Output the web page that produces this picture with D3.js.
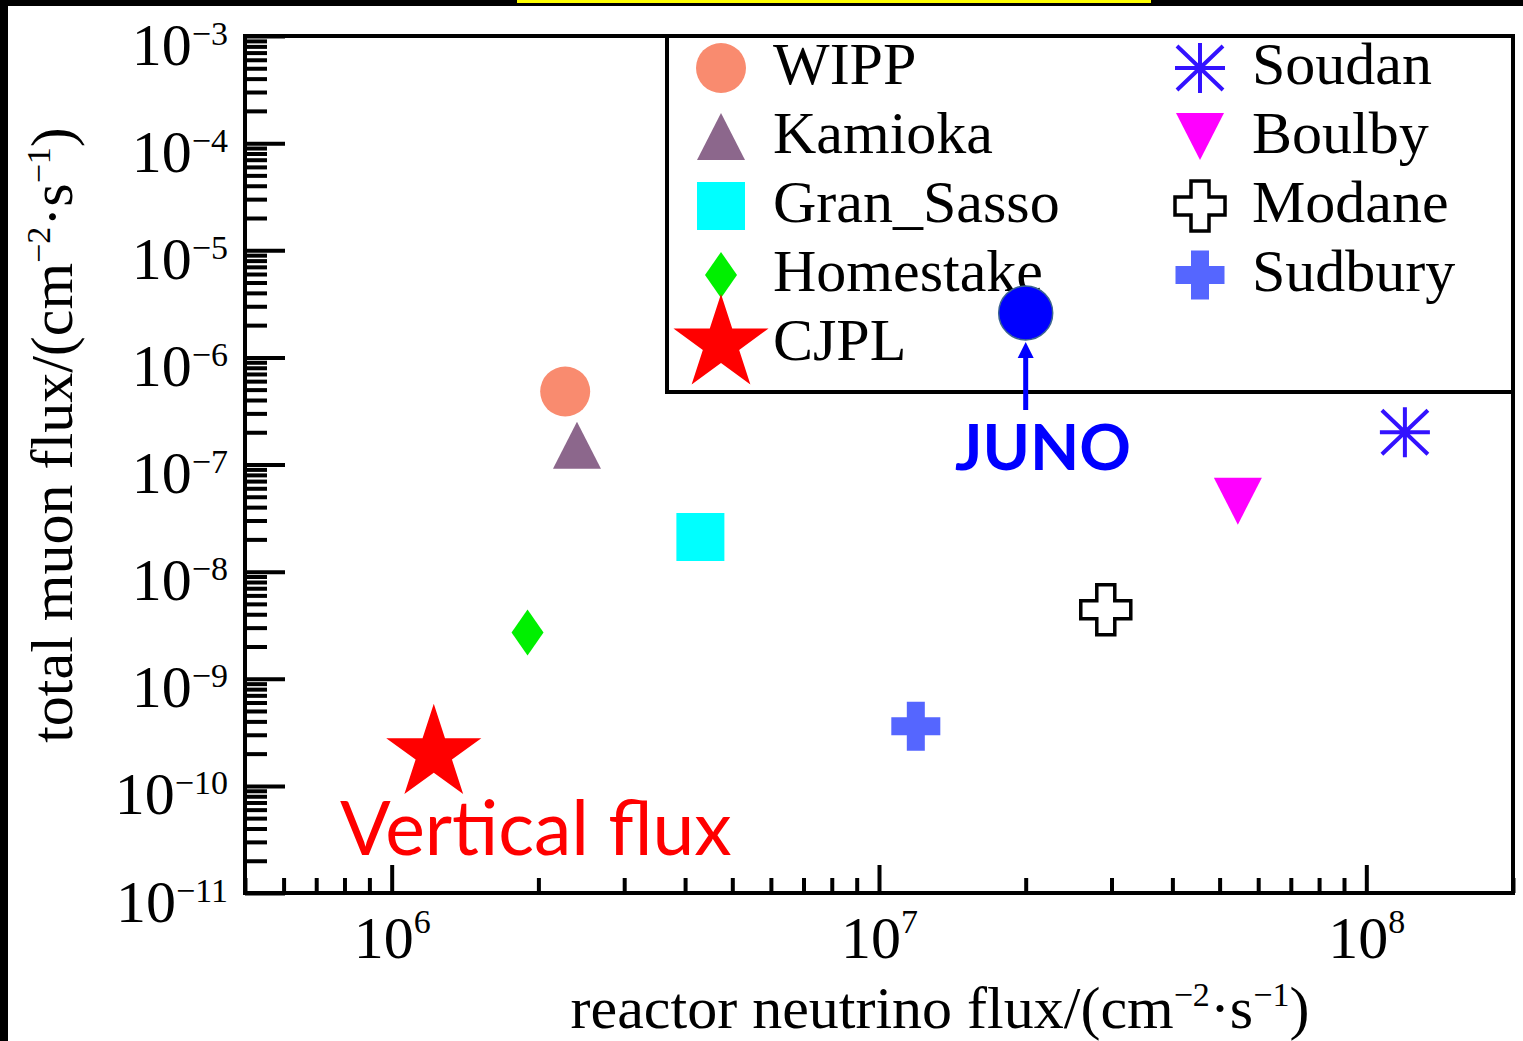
<!DOCTYPE html>
<html>
<head>
<meta charset="utf-8">
<script src="https://cdn.jsdelivr.net/npm/d3@7"></script>
<style>
  body { margin: 0; background: #fff; }
  svg text { font-family: "Liberation Serif", "Times New Roman", serif; }
</style>
</head>
<body>
<svg id="chart" width="1523" height="1041"></svg>
<script>
// underground labs, legend order: left column then right column
const sites = ["WIPP", "Kamioka", "Gran_Sasso", "Homestake", "CJPL", "Soudan", "Boulby", "Modane", "Sudbury"];
// reactor neutrino flux (cm^-2 s^-1)
const reactorFlux = [2.27e6, 2.4e6, 4.3e6, 1.9e6, 1.22e6, 1.2e8, 5.45e7, 2.92e7, 1.19e7];
// total muon flux (cm^-2 s^-1)
const muonFlux = [4.8e-7, 1.5e-7, 2.1e-8, 2.7e-9, 2.0e-10, 2.0e-7, 4.5e-8, 4.4e-9, 3.6e-10];
// JUNO site: [reactor flux, muon flux]
const junoFlux = [2.0e7, 2.6e-6];
// decade exponents that get a label
const xTickExps = [6, 7, 8];
const yTickExps = [-3, -4, -5, -6, -7, -8, -9, -10, -11];

const W = 1523, H = 1041;
const m = { left: 245, top: 36, right: 1513, bottom: 893 };

/**
 * marker shapes, centred on 0,0
 */
const shapes = {
  circle: () => d3.symbol(d3.symbolCircle, Math.PI * 25 * 25)(),
  triangle: () => "M0,-24L24,23L-24,23Z",
  triangleDown: () => "M0,23L24,-24L-24,-24Z",
  square: () => "M-24,-24H24V24H-24Z",
  diamond: () => "M0,-23L16,0L0,23L-16,0Z",
  star: () => {
    const R = 50, r = R * 0.382, p = d3.path();
    for (let i = 0; i < 10; i++) {
      const a = -Math.PI / 2 + i * Math.PI / 5, rr = i % 2 ? r : R;
      i ? p.lineTo(rr * Math.cos(a), rr * Math.sin(a)) : p.moveTo(rr * Math.cos(a), rr * Math.sin(a));
    }
    p.closePath();
    return p.toString();
  },
  asterisk: () => "M-25,0H25M0,-25V25M-23,-22L23,22M-23,22L23,-22",
  cross: (h, w) => `M${-w},${-h}H${w}V${-w}H${h}V${w}H${w}V${h}H${-w}V${w}H${-h}V${-w}H${-w}Z`
}

const markerStyle = {
  WIPP: { d: shapes.circle(), fill: "#f98b6f" },
  Kamioka: { d: shapes.triangle(), fill: "#8c678c" },
  Gran_Sasso: { d: shapes.square(), fill: "#00ffff" },
  Homestake: { d: shapes.diamond(), fill: "#00f000" },
  CJPL: { d: shapes.star(), fill: "#ff0000" },
  Soudan: { d: shapes.asterisk(), fill: "none", stroke: "#3312ff", sw: 4 },
  Boulby: { d: shapes.triangleDown(), fill: "#ff00ff" },
  Modane: { d: shapes.cross(25, 9), fill: "#fff", stroke: "#000", sw: 3.5 },
  Sudbury: { d: shapes.cross(24.5, 9), fill: "#5566ff" }
}

const svg = d3.select("#chart")

// black frame of the screenshot
svg.append("rect").attr("width", W).attr("height", H).attr("fill", "#fff")
svg.append("rect").attr("width", W).attr("height", 6).attr("fill", "#000")
svg.append("rect").attr("width", 8).attr("height", H).attr("fill", "#000")
svg.append("rect").attr("x", 517).attr("width", 634).attr("height", 3).attr("fill", "#ffff00")

const x = d3.scaleLog().domain([5e5, 2e8]).range([m.left, m.right])
const y = d3.scaleLog().domain([1e-11, 1e-3]).range([m.bottom, m.top])

const isMajor = v => Math.abs(Math.log10(v) - Math.round(Math.log10(v))) < 1e-9
const xMinor = x.ticks().filter(v => !isMajor(v))
const yMinor = y.ticks().filter(v => !isMajor(v))

function styleAxis(g) {
  g.select(".domain").remove()
  g.attr("font-family", null).attr("font-size", null)
  g.selectAll(".tick line").attr("stroke", "#000").attr("stroke-width", 4)
}

function powLabel(sel, exp, textY, supDy) {
  sel.selectAll(".tick text").each(function (d) {
    const t = d3.select(this).text(null).attr("y", textY).attr("dy", null)
      .attr("fill", "#000").attr("font-size", 60)
    t.append("tspan").text("10")
    t.append("tspan").attr("font-size", 34).attr("dy", supDy)
      .text(String(Math.round(Math.log10(d))).replace("-", "\u2212"))
  })
}

// x axis: minor then major ticks, pointing inwards
svg.append("g").attr("transform", `translate(0,${m.bottom})`)
  .call(d3.axisBottom(x).tickValues(xMinor).tickSize(-15).tickSizeOuter(0).tickFormat(""))
  .call(styleAxis)
  .selectAll("text").remove()

svg.append("g").attr("transform", `translate(0,${m.bottom})`)
  .call(d3.axisBottom(x).tickValues(xTickExps.map(e => 10 ** e)).tickSize(-28).tickSizeOuter(0).tickFormat(""))
  .call(styleAxis)
  .call(g => powLabel(g, true, 65, -25))

// y axis
svg.append("g").attr("transform", `translate(${m.left},0)`)
  .call(d3.axisLeft(y).tickValues(yMinor).tickSize(-22).tickSizeOuter(0).tickFormat(""))
  .call(styleAxis)
  .selectAll("text").remove()

svg.append("g").attr("transform", `translate(${m.left},0)`)
  .call(d3.axisLeft(y).tickValues(yTickExps.map(e => 10 ** e)).tickSize(-40).tickSizeOuter(0).tickPadding(17).tickFormat(""))
  .call(styleAxis)
  .call(g => {
    powLabel(g, true, 28, -20)
    g.selectAll(".tick text").attr("text-anchor", "end")
  })

// plot frame
svg.append("rect")
  .attr("x", m.left).attr("y", m.top)
  .attr("width", m.right - m.left).attr("height", m.bottom - m.top)
  .attr("fill", "none").attr("stroke", "#000").attr("stroke-width", 4)

// axis titles
function unitTitle(t) {
  t.append("tspan").text(t.attr("data-label") + "/(cm")
  t.append("tspan").attr("font-size", 34).attr("dy", -22).text("\u22122")
  t.append("tspan").attr("dy", 22).text("\u00b7s")
  t.append("tspan").attr("font-size", 34).attr("dy", -22).text("\u22121")
  t.append("tspan").attr("dy", 22).text(")")
}

svg.append("text")
  .attr("x", 940).attr("y", 1028)
  .attr("text-anchor", "middle").attr("font-size", 60)
  .attr("data-label", "reactor neutrino flux")
  .call(unitTitle)

svg.append("text")
  .attr("transform", "translate(72,435) rotate(-90)")
  .attr("text-anchor", "middle").attr("font-size", 60)
  .attr("data-label", "total muon flux")
  .call(unitTitle)

// legend box
svg.append("rect")
  .attr("x", 667).attr("y", m.top).attr("width", m.right - 667).attr("height", 392 - m.top)
  .attr("fill", "#fff").attr("stroke", "#000").attr("stroke-width", 4)

const legend = svg.append("g").selectAll("g").data(sites).join("g")
  .attr("transform", (d, i) => `translate(${i < 5 ? 721 : 1200},${68 + (i % 5) * 69})`)

legend.append("path")
  .attr("d", d => markerStyle[d].d)
  .attr("fill", d => markerStyle[d].fill)
  .attr("stroke", d => markerStyle[d].stroke || "none")
  .attr("stroke-width", d => markerStyle[d].sw || 0)

legend.append("text")
  .attr("x", 52).attr("y", 16)
  .attr("font-size", 60)
  .text(d => d)

// data points
svg.append("g").selectAll("path").data(sites).join("path")
  .attr("transform", (d, i) => `translate(${x(reactorFlux[i])},${y(muonFlux[i])})`)
  .attr("d", d => markerStyle[d].d)
  .attr("fill", d => markerStyle[d].fill)
  .attr("stroke", d => markerStyle[d].stroke || "none")
  .attr("stroke-width", d => markerStyle[d].sw || 0)

// CJPL annotation
svg.append("text")
  .attr("x", 340).attr("y", 855)
  .attr("fill", "#ff0000")
  .style("font-family", "Lato, 'Open Sans', sans-serif").attr("font-size", 75)
  .text("Vertical flux")

// JUNO point with arrow and label
const jx = x(junoFlux[0]), jy = y(junoFlux[1])
svg.append("line")
  .attr("x1", jx).attr("x2", jx).attr("y1", 410).attr("y2", jy + 40)
  .attr("stroke", "#0000ff").attr("stroke-width", 5)
svg.append("path")
  .attr("d", `M${jx},${jy + 29}L${jx - 8},${jy + 45}L${jx + 8},${jy + 45}Z`)
  .attr("fill", "#0000ff")
svg.append("circle")
  .attr("cx", jx).attr("cy", jy).attr("r", 27)
  .attr("fill", "#0000ff").attr("stroke", "#3d6690").attr("stroke-width", 1.5)
svg.append("text")
  .attr("x", 955).attr("y", 470)
  .attr("fill", "#0000ff").attr("font-weight", "bold")
  .style("font-family", "Lato, 'Open Sans', sans-serif").attr("font-size", 64)
  .text("JUNO")
</script>
</body>
</html>
